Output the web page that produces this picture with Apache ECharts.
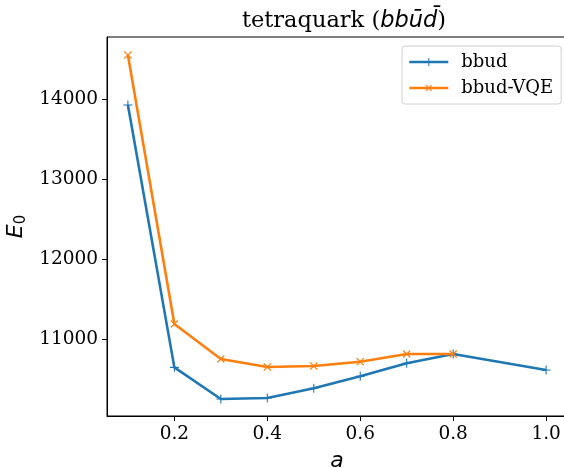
<!DOCTYPE html>
<html>
<head>
<meta charset="utf-8">
<script src="https://cdn.jsdelivr.net/npm/echarts@6/dist/echarts.min.js"></script>
<style>html,body{margin:0;padding:0;background:#fff}#c{width:564px;height:468px}</style>
</head>
<body>
<div id="c"></div>
<script>
const aValues = [0.1, 0.2, 0.3, 0.4, 0.5, 0.6, 0.7, 0.8];
const aValuesBbud = [0.1, 0.2, 0.3, 0.4, 0.5, 0.6, 0.7, 0.8, 1.0];
const bbud = [13925, 10645, 10250, 10262, 10384, 10534, 10696, 10812, 10612];
const bbudVQE = [14550, 11187, 10750, 10650, 10662, 10716, 10812, 10812];
const xTicks = [0.2, 0.4, 0.6, 0.8, 1.0];
const yTicks = [11000, 12000, 13000, 14000];

const plusPath = 'path://M-0.12,-1H0.12V-0.12H1V0.12H0.12V1H-0.12V0.12H-1V-0.12H-0.12Z';
const crossPath = 'path://M-0.12,-1H0.12V-0.12H1V0.12H0.12V1H-0.12V0.12H-1V-0.12H-0.12Z';

const chart = echarts.init(document.getElementById('c'), null, {renderer: 'canvas'});
const serif = 'DejaVu Serif';
chart.setOption({
  animation: false,
  backgroundColor: '#fff',
  title: {
    text: '{n|tetraquark (}{m|bbūd̄}{n|)}',
    left: 339, top: 5, textAlign: 'center',
    textStyle: {
      fontWeight: 'normal',
      rich: {
        n: {fontFamily: serif, fontSize: 22.5, fontWeight: 'normal', color: '#000'},
        m: {fontFamily: 'DejaVu Sans', fontStyle: 'italic', fontWeight: 'normal', fontSize: 22.5, color: '#000'}
      }
    }
  },
  grid: {left: 107, top: 37, width: 460, height: 379, show: true, borderColor: '#000', borderWidth: 1, containLabel: false, outerBoundsMode: 'none'},
  legend: {
    left: 402, top: 46,
    orient: 'vertical',
    backgroundColor: '#fff', borderColor: '#d0d0d0', borderWidth: 1, borderRadius: 3,
    padding: [6, 8, 6, 6],
    itemWidth: 39, itemHeight: 10, itemGap: 6,
    lineStyle: {width: 2.6},
    textStyle: {fontFamily: serif, fontSize: 18, color: '#000', padding: [0, 0, 0, 8], lineHeight: 20},
    data: ['bbud', 'bbud-VQE']
  },
  xAxis: {
    type: 'value', min: 0.055, max: 1.045,
    name: 'a', nameLocation: 'middle', nameGap: 34,
    nameTextStyle: {fontFamily: 'DejaVu Sans', fontStyle: 'italic', fontSize: 22, color: '#000'},
    axisLine: {show: true, onZero: false, lineStyle: {color: '#000', width: 1}},
    axisTick: {show: true, length: 5, inside: false, customValues: xTicks, lineStyle: {color: '#000'}},
    axisLabel: {customValues: xTicks, fontFamily: serif, fontSize: 18.5, color: '#000', margin: 9, formatter: v => v.toFixed(1)},
    splitLine: {show: false}
  },
  yAxis: {
    type: 'value', min: 10037, max: 14775,
    name: '{e|E}{s|0}', nameLocation: 'middle', nameGap: 74, nameRotate: 90,
    nameTextStyle: {rich: {
      e: {fontFamily: 'DejaVu Sans', fontStyle: 'italic', fontSize: 22, color: '#000'},
      s: {fontFamily: 'DejaVu Sans', fontSize: 15, color: '#000', verticalAlign: 'bottom', padding: [8, 0, 0, 0]}
    }},
    axisLine: {show: true, onZero: false, lineStyle: {color: '#000', width: 1}},
    axisTick: {show: true, length: 5, inside: false, customValues: yTicks, lineStyle: {color: '#000'}},
    axisLabel: {customValues: yTicks, fontFamily: serif, fontSize: 18.5, color: '#000', margin: 9, formatter: v => String(v)},
    splitLine: {show: false}
  },
  series: [
    {
      name: 'bbud', type: 'line',
      data: aValuesBbud.map((a, i) => [a, bbud[i]]),
      color: '#1f77b4',
      lineStyle: {width: 2.6, color: '#1f77b4'},
      symbol: plusPath, symbolSize: 9, showSymbol: true,
      itemStyle: {color: '#1f77b4'},
      z: 2
    },
    {
      name: 'bbud-VQE', type: 'line',
      data: aValues.map((a, i) => [a, bbudVQE[i]]),
      color: '#ff7f0e',
      lineStyle: {width: 2.6, color: '#ff7f0e'},
      symbol: crossPath, symbolSize: 10, symbolRotate: 45, showSymbol: true,
      itemStyle: {color: '#ff7f0e'},
      z: 3
    }
  ]
});
</script>
</body>
</html>
